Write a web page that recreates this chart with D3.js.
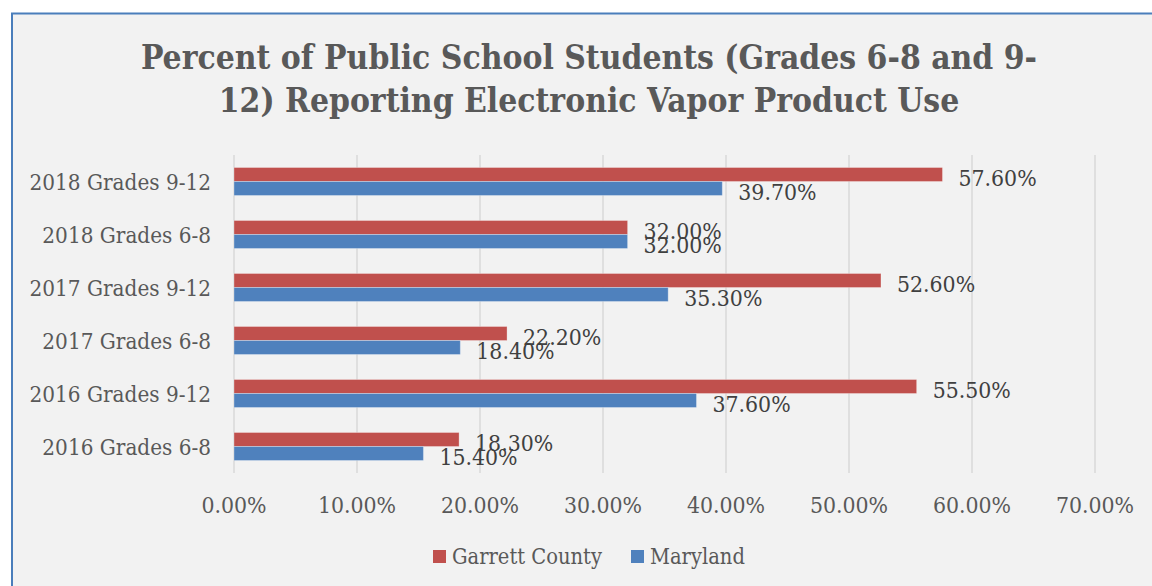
<!DOCTYPE html>
<html>
<head>
<meta charset="utf-8">
<script src="https://cdn.jsdelivr.net/npm/d3@7"></script>
<style>
  html, body { margin: 0; padding: 0; background: #ffffff; }
  svg { display: block; }
</style>
</head>
<body>
<div id="chart"></div>
<script>
// chart data
var categories = ["2018 Grades 9-12", "2018 Grades 6-8", "2017 Grades 9-12",
    "2017 Grades 6-8", "2016 Grades 9-12", "2016 Grades 6-8"];
var seriesNames = ["Garrett County", "Maryland"];
var garrettValues = [57.6, 32.0, 52.6, 22.2, 55.5, 18.3];
var marylandValues = [39.7, 32.0, 35.3, 18.4, 37.6, 15.4];
var tickValues = [0, 10, 20, 30, 40, 50, 60, 70];
var titleLines = ["Percent of Public School Students (Grades 6-8 and 9-",
    "12) Reporting Electronic Vapor Product Use"];

var width = 1152;
var height = 586;
var colors = { "Garrett County": "#c0504d", "Maryland": "#4f81bd" };
var serif = "'DejaVu Serif Condensed', 'DejaVu Serif', serif";

var svg = d3.select("#chart")
    .append("svg")
    .attr("width", width)
    .attr("height", height);

// chart area background + border (right/bottom run off the page)
svg.append("rect")
    .attr("x", 12).attr("y", 13.5)
    .attr("width", width + 20).attr("height", height + 20)
    .attr("fill", "#f2f2f2")
    .attr("stroke", "#4a7ebb")
    .attr("stroke-width", 2);

// title
svg.append("text")
    .attr("text-anchor", "middle")
    .attr("font-family", serif)
    .attr("font-weight", "bold")
    .attr("font-size", 33.3)
    .attr("fill", "#595959")
    .selectAll("tspan")
    .data(titleLines)
    .enter().append("tspan")
    .attr("x", 589)
    .attr("y", function (d, i) { return 69 + i * 43; })
    .text(function (d) { return d; });

var x = d3.scaleLinear().domain([0, 70]).range([234, 1095]);

var y = d3.scaleBand()
    .domain(categories)
    .range([155, 473])
    .paddingInner(0.472)
    .paddingOuter(0.236);

var ySub = d3.scaleBand()
    .domain(seriesNames)
    .range([0, y.bandwidth()]);

// gridlines
svg.append("g")
    .selectAll("line")
    .data(tickValues)
    .enter().append("line")
    .attr("x1", function (d) { return x(d); })
    .attr("x2", function (d) { return x(d); })
    .attr("y1", 155)
    .attr("y2", 473)
    .attr("stroke", "#d9d9d9")
    .attr("stroke-width", 1.5);

// x tick labels
svg.append("g")
    .selectAll("text")
    .data(tickValues)
    .enter().append("text")
    .attr("x", function (d) { return x(d); })
    .attr("y", 513)
    .attr("text-anchor", "middle")
    .attr("font-family", serif)
    .attr("font-size", 22.8)
    .attr("fill", "#595959")
    .text(function (d) { return d.toFixed(2) + "%"; });

// category labels
svg.append("g")
    .selectAll("text")
    .data(categories)
    .enter().append("text")
    .attr("x", 211)
    .attr("y", function (d) { return y(d) + y.bandwidth() / 2; })
    .attr("dy", "0.36em")
    .attr("text-anchor", "end")
    .attr("font-family", serif)
    .attr("font-size", 22.3)
    .attr("fill", "#595959")
    .text(function (d) { return d; });

// build bar rows from the arrays
var rows = [];
categories.forEach(function (c, i) {
    rows.push({ cat: c, series: "Garrett County", value: garrettValues[i] });
    rows.push({ cat: c, series: "Maryland", value: marylandValues[i] });
});

svg.append("g")
    .selectAll("rect")
    .data(rows)
    .enter().append("rect")
    .attr("x", x(0))
    .attr("y", function (d) { return y(d.cat) + ySub(d.series); })
    .attr("width", function (d) { return x(d.value) - x(0); })
    .attr("height", ySub.bandwidth())
    .attr("fill", function (d) { return colors[d.series]; })
    .attr("stroke", "#ffffff")
    .attr("stroke-opacity", 0.3)
    .attr("stroke-width", 1);

// value labels
svg.append("g")
    .selectAll("text")
    .data(rows)
    .enter().append("text")
    .attr("x", function (d) { return x(d.value) + 16; })
    .attr("y", function (d) { return y(d.cat) + ySub(d.series) + ySub.bandwidth() / 2 + 3; })
    .attr("dy", "0.36em")
    .attr("font-family", serif)
    .attr("font-size", 22.8)
    .attr("fill", "#404040")
    .text(function (d) { return d.value.toFixed(2) + "%"; });

// legend
var legendX = [433, 631];
var legend = svg.append("g")
    .selectAll("g")
    .data(seriesNames)
    .enter().append("g")
    .attr("transform", function (d, i) { return "translate(" + legendX[i] + ",550)"; });

legend.append("rect")
    .attr("width", 13)
    .attr("height", 13)
    .attr("fill", function (d) { return colors[d]; });

legend.append("text")
    .attr("x", 19)
    .attr("y", 6.5)
    .attr("dy", "0.36em")
    .attr("font-family", serif)
    .attr("font-size", 21.7)
    .attr("fill", "#595959")
    .text(function (d) { return d; });
</script>
</body>
</html>
